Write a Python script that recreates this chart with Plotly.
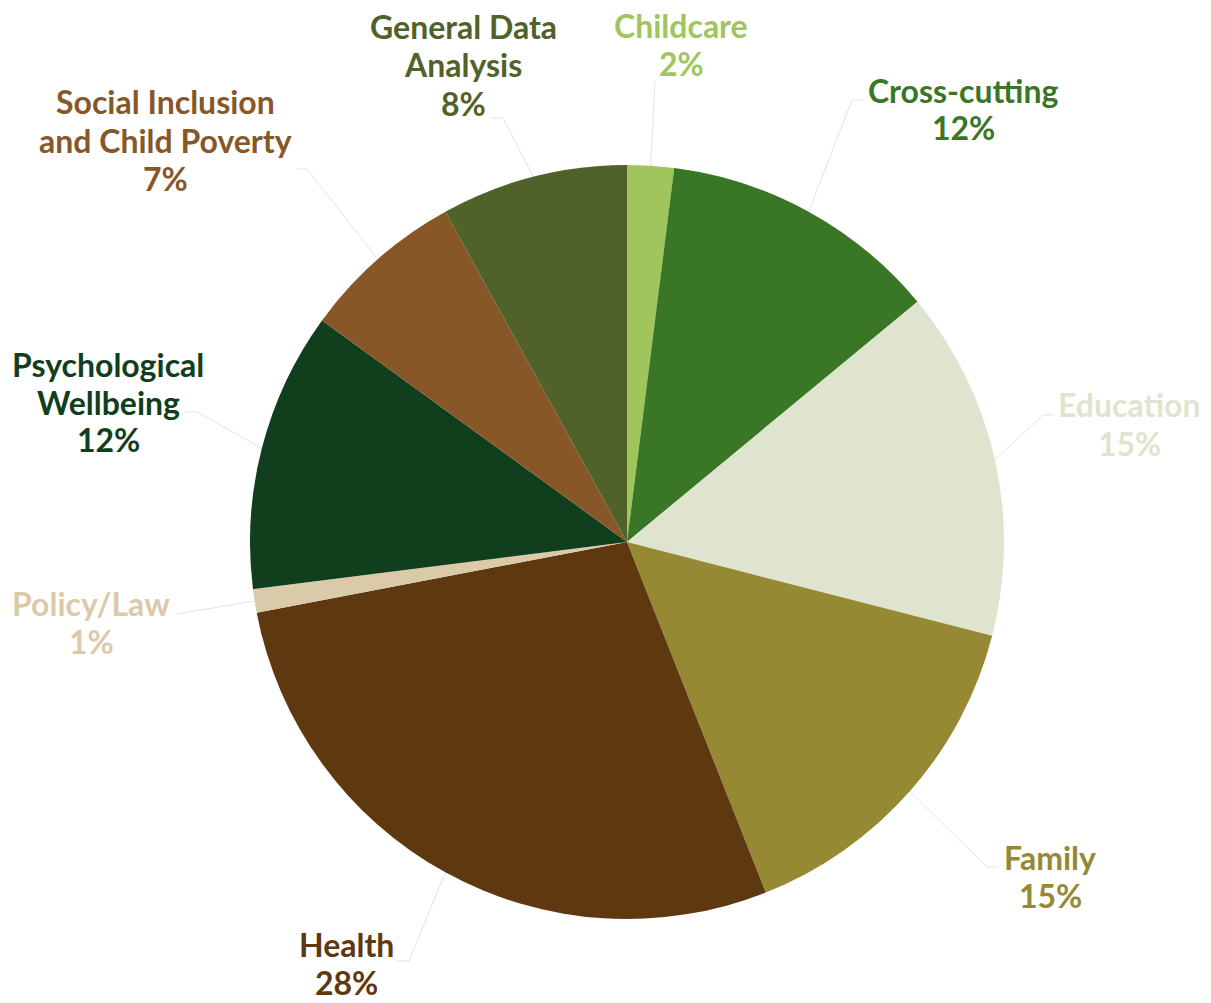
import math
import plotly.graph_objects as go

# Share of work by topic area (percent)
categories = [
    "Childcare",
    "Cross-cutting",
    "Education",
    "Family",
    "Health",
    "Policy/Law",
    "Psychological Wellbeing",
    "Social Inclusion and Child Poverty",
    "General Data Analysis",
]
shares = [2, 12, 15, 15, 28, 1, 12, 7, 8]

# Label text, split over lines as displayed
label_lines = [
    ["Childcare"],
    ["Cross-cutting"],
    ["Education"],
    ["Family"],
    ["Health"],
    ["Policy/Law"],
    ["Psychological", "Wellbeing"],
    ["Social Inclusion", "and Child Poverty"],
    ["General Data", "Analysis"],
]

colors = [
    "#a0c55c", "#397625", "#dfe4ce", "#968934", "#5e380f",
    "#dbcaaa", "#113e1d", "#875728", "#506229",
]

# ---- layout constants (pixels) ----
W, H = 1211, 1003
CX, CY, R = 627, 542, 377
FONT_SIZE = 32
LINE_PITCH = 38

# Label centres, relative to the pie centre
label_offsets = [
    (54, -497), (336, -433), (502, -118), (423, 334), (-281, 421),
    (-536, 80), (-519, -140), (-462, -402), (-164, -477),
]
# Leader line: (end, elbow) relative to the label centre
leader_pts = [
    ((-26, 36), (-26, 36)),
    ((-100, -9), (-111, -9)),
    ((-75, -9), (-86, -9)),
    ((-52, -9), (-63, -9)),
    ((51, -2), (63, -2)),
    ((86, -8), (86, -8)),
    ((77, 10), (89, 10)),
    ((132, 29), (142, 29)),
    ((27, 53), (40, 53)),
]


def px(x):
    return x / W


def py(y):
    return 1 - y / H


fig = go.Figure(
    go.Pie(
        labels=categories,
        values=shares,
        sort=False,
        direction="clockwise",
        rotation=0,
        marker=dict(colors=colors, line=dict(width=0)),
        textinfo="none",
        hoverinfo="label+percent",
        showlegend=False,
        domain=dict(x=[px(CX - R), px(CX + R)], y=[py(CY + R), py(CY - R)]),
    )
)

total = sum(shares)
cum = 0.0
annotations = []
shapes = []
for i, v in enumerate(shares):
    frac = v / total
    pct = round(100 * frac)
    mid = 2 * math.pi * (cum + frac / 2)
    cum += frac
    rim = (CX + R * math.sin(mid), CY - R * math.cos(mid))

    lx, ly = CX + label_offsets[i][0], CY + label_offsets[i][1]
    lines = label_lines[i] + [f"{pct}%"]
    n = len(lines)
    for k, line in enumerate(lines):
        yk = ly + (k - (n - 1) / 2) * LINE_PITCH
        annotations.append(dict(
            x=px(lx), y=py(yk), xref="paper", yref="paper",
            text=line, showarrow=False, align="center",
            xanchor="center", yanchor="middle",
            font=dict(family="Lato", size=FONT_SIZE, color=colors[i],
                      weight="bold"),
        ))

    (ex, ey), (bx, by) = leader_pts[i]
    end = (lx + ex, ly + ey)
    elbow = (lx + bx, ly + by)
    path = (f"M {px(rim[0])},{py(rim[1])} L {px(elbow[0])},{py(elbow[1])} "
            f"L {px(end[0])},{py(end[1])}")
    shapes.append(dict(
        type="path", path=path, xref="paper", yref="paper",
        line=dict(color="#e3e3e3", width=1), layer="below",
    ))

fig.update_layout(
    width=W, height=H,
    margin=dict(l=0, r=0, t=0, b=0),
    paper_bgcolor="white", plot_bgcolor="white",
    annotations=annotations,
    shapes=shapes,
)

fig.write_html("out.html")
